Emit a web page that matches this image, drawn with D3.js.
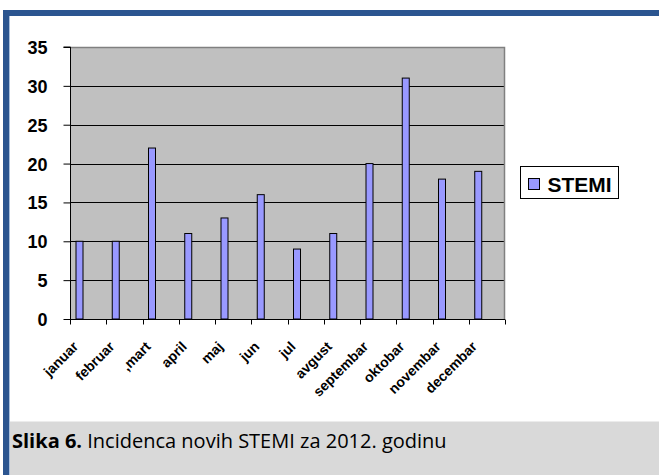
<!DOCTYPE html>
<html>
<head>
<meta charset="utf-8">
<script src="https://cdn.jsdelivr.net/npm/d3@7"></script>
<style>
  body { margin: 0; background: #fff; }
  svg { display: block; }
</style>
</head>
<body>
<div id="chart"></div>
<script>
// chart data
const months = ["januar", "februar", ",mart", "april", "maj", "jun", "jul", "avgust", "septembar", "oktobar", "novembar", "decembar"];
const stemi = [10, 10, 22, 11, 13, 16, 9, 11, 20, 31, 18, 19];
const yTicks = [0, 5, 10, 15, 20, 25, 30, 35];
const seriesName = "STEMI";

const W = 659, H = 475;
const svg = d3.select("#chart").append("svg")
  .attr("width", W)
  .attr("height", H);

// frame
svg.append("rect").attr("x", 0).attr("y", 0).attr("width", W).attr("height", H).attr("fill", "#fff");
svg.append("rect").attr("x", 9).attr("y", 421).attr("width", W - 9).attr("height", H - 421).attr("fill", "#d9d9d9");
svg.append("line").attr("x1", 9).attr("x2", W).attr("y1", 421.5).attr("y2", 421.5).attr("stroke", "#ececec");
svg.append("rect").attr("x", 3).attr("y", 10).attr("width", W - 3).attr("height", 6).attr("fill", "#2b5590");
svg.append("rect").attr("x", 3).attr("y", 10).attr("width", 6).attr("height", H - 10).attr("fill", "#2b5590");
svg.append("line").attr("x1", 9.5).attr("x2", 9.5).attr("y1", 16).attr("y2", H).attr("stroke", "#a9bfdc");

// plot area
const plot = {left: 70, top: 47, right: 505, bottom: 319};

const x = d3.scaleBand()
  .domain(months)
  .range([plot.left, plot.right])
  .paddingInner(0)
  .paddingOuter(0);

const y = d3.scaleLinear()
  .domain([0, 35])
  .range([plot.bottom, plot.top]);

svg.append("rect")
  .attr("x", plot.left).attr("y", plot.top)
  .attr("width", plot.right - plot.left).attr("height", plot.bottom - plot.top)
  .attr("fill", "#c0c0c0");

// gridlines
svg.append("g")
  .selectAll("line")
  .data(yTicks.filter(d => d > 0 && d < 35))
  .join("line")
  .attr("x1", plot.left).attr("x2", plot.right)
  .attr("y1", d => Math.round(y(d)) + 0.5).attr("y2", d => Math.round(y(d)) + 0.5)
  .attr("stroke", "#000").attr("stroke-width", 1);

// plot border (top + right gray)
svg.append("path")
  .attr("d", `M${plot.left},${plot.top + 0.5}H${plot.right - 0.5}V${plot.bottom}`)
  .attr("fill", "none").attr("stroke", "#808080").attr("stroke-width", 1.5);

// bars
svg.append("g")
  .selectAll("rect")
  .data(months)
  .join("rect")
  .attr("x", d => x(d) + 6)
  .attr("y", (d, i) => y(stemi[i]))
  .attr("width", 7)
  .attr("height", (d, i) => y(0) - y(stemi[i]))
  .attr("fill", "#9999ff")
  .attr("stroke", "#000")
  .attr("stroke-width", 1);

// y axis
const yAxis = svg.append("g")
  .attr("transform", `translate(${plot.left + 0.5},0)`)
  .call(d3.axisLeft(y).tickValues(yTicks).tickSize(7).tickPadding(16).tickFormat(d3.format("d")));
yAxis.select(".domain").attr("stroke", "#000").attr("d", `M-7,${plot.top}H0V${plot.bottom}`);
yAxis.selectAll("text")
  .style("font-family", "'Liberation Sans', Arial, sans-serif")
  .style("font-weight", "bold")
  .style("font-size", "18px")
  .attr("dy", "0.36em")
  .attr("fill", "#000");

// x axis (ticks at category boundaries)
const xAxis = svg.append("g")
  .attr("transform", `translate(0,${plot.bottom + 0.5})`);
xAxis.append("line")
  .attr("x1", plot.left).attr("x2", plot.right)
  .attr("stroke", "#000");
xAxis.selectAll("line.tick")
  .data(months.concat(["end"]))
  .join("line")
  .attr("class", "tick")
  .attr("x1", (d, i) => Math.round(i < months.length ? x(d) : plot.right) + 0.5)
  .attr("x2", (d, i) => Math.round(i < months.length ? x(d) : plot.right) + 0.5)
  .attr("y1", 0).attr("y2", 5)
  .attr("stroke", "#000");
xAxis.selectAll("text")
  .data(months)
  .join("text")
  .attr("transform", d => `translate(${x(d) + x.bandwidth() / 2 - 9},${28}) rotate(-45)`)
  .attr("text-anchor", "end")
  .style("font-family", "'Liberation Sans', Arial, sans-serif")
  .style("font-weight", "bold")
  .style("font-size", "14px")
  .text(d => d);

// legend
const legend = svg.append("g").attr("transform", "translate(520.5,166.5)");
legend.append("rect").attr("width", 98).attr("height", 32).attr("fill", "#fff").attr("stroke", "#000");
legend.append("rect").attr("x", 8).attr("y", 12).attr("width", 11).attr("height", 11)
  .attr("fill", "#9999ff").attr("stroke", "#000");
legend.append("text")
  .attr("x", 27).attr("y", 25.5)
  .style("font-family", "'Liberation Sans', Arial, sans-serif")
  .style("font-weight", "bold")
  .style("font-size", "20px")
  .attr("textLength", 64)
  .attr("lengthAdjust", "spacingAndGlyphs")
  .text(seriesName);

// caption
const caption = svg.append("text")
  .attr("x", 12).attr("y", 448)
  .style("font-family", "'Open Sans', sans-serif")
  .style("font-size", "20px")
  .attr("fill", "#000");
caption.append("tspan").style("font-weight", "bold").text("Slika 6.");
caption.append("tspan").text(" Incidenca novih STEMI za 2012. godinu");
</script>
</body>
</html>
